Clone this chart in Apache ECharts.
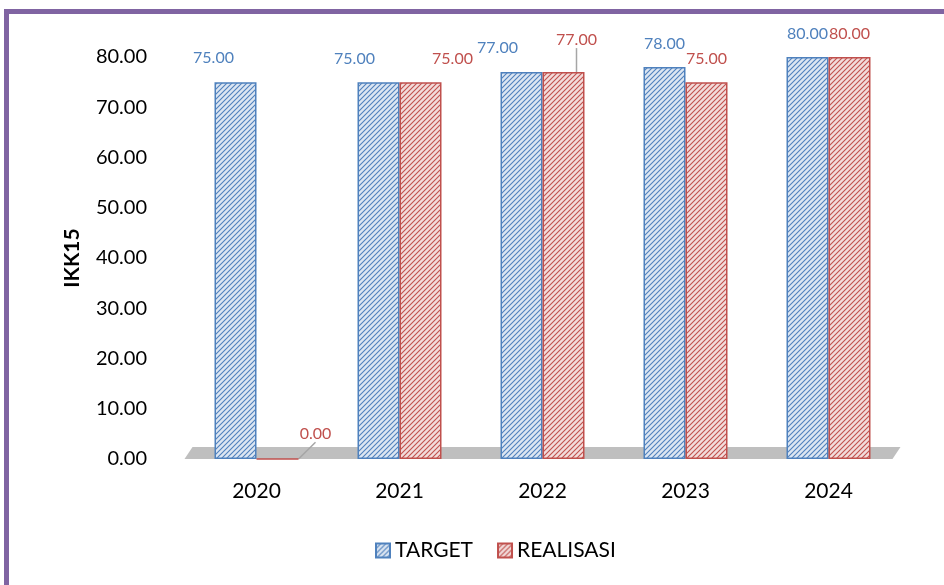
<!DOCTYPE html>
<html>
<head>
<meta charset="utf-8">
<script src="https://cdn.jsdelivr.net/npm/echarts@6/dist/echarts.min.js"></script>
<style>
  html, body { margin: 0; padding: 0; background: #fff; }
  .frame {
    position: absolute; left: 4px; top: 9px; width: 940px; height: 576px;
    border-left: 5px solid #8064A2; border-top: 5px solid #8064A2;
  }
  #chart { position: absolute; left: 0; top: 0; width: 944px; height: 585px; }
</style>
</head>
<body>
<div class="frame"></div>
<div id="chart"></div>
<script>
// data
const years = ["2020", "2021", "2022", "2023", "2024"];
const target = [75, 75, 77, 78, 80];
const realisasi = [0, 75, 77, 75, 80];
const yTicks = [0, 10, 20, 30, 40, 50, 60, 70, 80];

// label nudges (px)
const shiftT = [[-22, -2], [-24, -1], [-24, -2], [0, -1], [0, -1]];
const shiftR = [[38, -2], [32, -1], [13, -10], [0, -1], [0, -1]];
const leader = [true, false, true, false, false];

// hatch pattern "///"
function hatch(bg, line) {
  let c = document.createElement("canvas");
  c.width = 5; c.height = 5;
  let g = c.getContext("2d");
  g.fillStyle = bg;
  g.fillRect(0, 0, 5, 5);
  g.strokeStyle = line;
  g.lineWidth = 1.1;
  g.beginPath();
  g.moveTo(0, 5); g.lineTo(5, 0);
  g.moveTo(-2.5, 2.5); g.lineTo(2.5, -2.5);
  g.moveTo(2.5, 7.5); g.lineTo(7.5, 2.5);
  g.stroke();
  return { image: c, repeat: "repeat" };
}

const blue = "#4F81BD";
const red = "#C0504D";
const font = "Lato, 'Open Sans', sans-serif";

let chart = echarts.init(document.getElementById("chart"));
let option = {
  animation: false,
  textStyle: { fontFamily: font },
  grid: { left: 185, right: 44, top: 57, bottom: 126 },
  legend: {
    bottom: 19,
    left: 370,
    itemWidth: 14,
    itemHeight: 14,
    itemGap: 24,
    icon: "rect",
    textStyle: { fontSize: 21, color: "#000", fontFamily: font },
    data: ["TARGET", "REALISASI"]
  },
  xAxis: {
    type: "category",
    data: years,
    axisLine: { show: false },
    axisTick: { show: false },
    axisLabel: { fontSize: 21, color: "#000", margin: 22, fontFamily: font }
  },
  yAxis: {
    type: "value",
    min: 0,
    max: 80,
    interval: 10,
    name: "IKK15",
    nameLocation: "middle",
    nameGap: 102,
    nameRotate: 90,
    nameTextStyle: { fontSize: 21, fontWeight: "bold", color: "#000", fontFamily: font },
    splitLine: { show: false },
    axisLine: { show: false },
    axisTick: { show: false },
    axisLabel: {
      fontSize: 20, color: "#000", margin: 38, fontFamily: font,
      formatter: function(v) { return yTicks.indexOf(v) >= 0 ? v.toFixed(2) : ""; }
    }
  },
  series: [
    {
      name: "TARGET",
      type: "bar",
      barWidth: 42,
      barGap: "0%",
      itemStyle: { color: hatch("#DCE6F2", blue), borderColor: blue, borderWidth: 1.5 },
      label: {
        show: true, position: "top", distance: 14, fontSize: 16, color: blue,
        formatter: function(p) { return p.value.toFixed(2); }
      },
      data: target.map(function(v, i) {
        return { value: v, label: { offset: shiftT[i] } };
      })
    },
    {
      name: "REALISASI",
      type: "bar",
      barWidth: 42,
      itemStyle: { color: hatch("#F2DCDB", red), borderColor: red, borderWidth: 1.5 },
      label: {
        show: true, position: "top", distance: 14, fontSize: 16, color: red,
        formatter: function(p) { return p.value.toFixed(2); }
      },
      labelLine: { show: true, lineStyle: { color: "#A6A6A6", width: 1.5 } },
      labelLayout: function(p) {
        let s = shiftR[p.dataIndex];
        return { dx: s[0], dy: s[1] };
      },
      data: realisasi.map(function(v, i) {
        return { value: v, labelLine: { show: leader[i] } };
      })
    }
  ]
};
chart.setOption(option);

// grey floor under the bars
let x0 = chart.convertToPixel({ xAxisIndex: 0 }, years[0]) - 72;
let x1 = chart.convertToPixel({ xAxisIndex: 0 }, years[years.length - 1]) + 72;
let y0 = chart.convertToPixel({ yAxisIndex: 0 }, 0);
chart.setOption({
  graphic: [{
    type: "polygon",
    z: -1,
    shape: { points: [[x0, y0], [x1 - 8, y0], [x1, y0 - 12], [x0 + 8, y0 - 12]] },
    style: { fill: "#BFBFBF" },
    silent: true
  }]
});
</script>
</body>
</html>
